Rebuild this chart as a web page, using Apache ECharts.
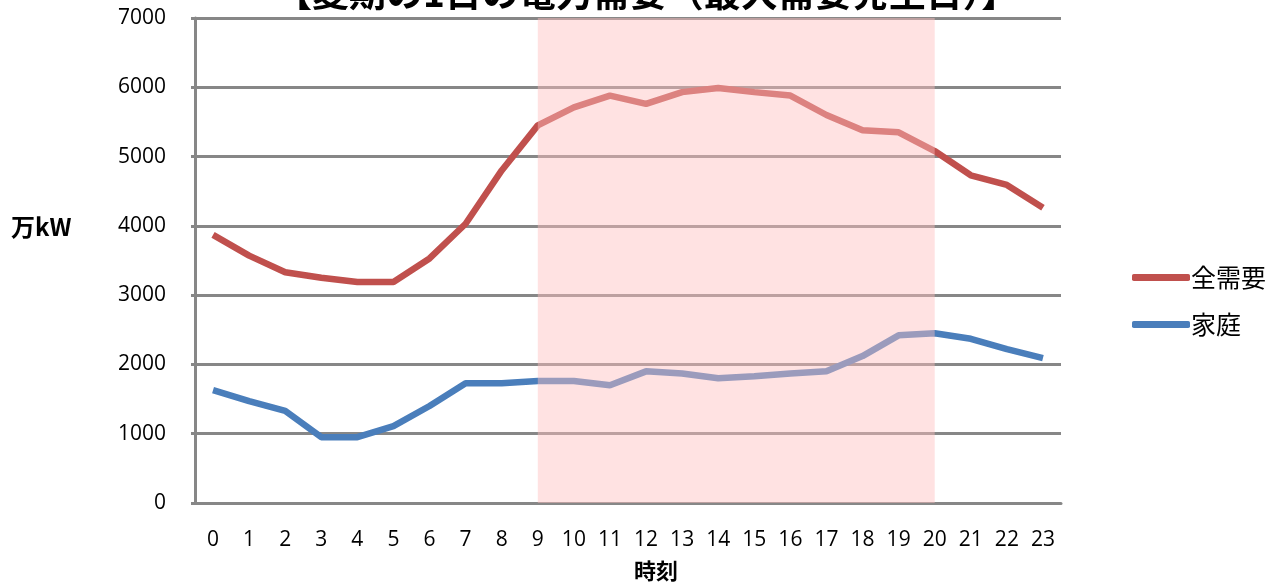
<!DOCTYPE html>
<html>
<head>
<meta charset="utf-8">
<script src="https://cdn.jsdelivr.net/npm/echarts@6/dist/echarts.min.js"></script>
<style>
    html, body { margin: 0; padding: 0; background: #fff; }
    #main { width: 1270px; height: 587px; }
</style>
</head>
<body>
<div id="main"></div>
<script>
// 時刻
var hours = ['0', '1', '2', '3', '4', '5', '6', '7', '8', '9', '10', '11',
    '12', '13', '14', '15', '16', '17', '18', '19', '20', '21', '22', '23'];
// 全需要（万kW）
var totalDemand = [3870, 3570, 3330, 3250, 3190, 3190, 3530, 4030, 4800, 5450, 5710, 5880,
    5760, 5930, 5990, 5930, 5880, 5600, 5380, 5350, 5080, 4730, 4590, 4260];
// 家庭（万kW）
var homeDemand = [1630, 1470, 1330, 950, 950, 1110, 1400, 1730, 1730, 1760, 1760, 1700,
    1900, 1870, 1800, 1830, 1870, 1900, 2120, 2420, 2450, 2370, 2220, 2090];
// ピーク時間帯
var peakRange = ['9', '20'];

var cjk = '"Noto Sans CJK JP", "Noto Sans", sans-serif';
var gridGrey = '#878787';

var myChart = echarts.init(document.getElementById('main'));
var option = {
    backgroundColor: '#fff',
    animation: false,
    title: {
        text: '【夏期の1日の電力需要（最大需要発生日）】',
        left: 270,
        top: -31,
        textStyle: {
            fontFamily: cjk,
            fontSize: 37,
            fontWeight: 'bold',
            color: '#000'
        }
    },
    graphic: [{
        type: 'text',
        left: 11,
        top: 215,
        style: {
            text: '万kW',
            font: 'bold 24px "Noto Sans CJK JP", sans-serif',
            fill: '#000'
        }
    }, {
        type: 'text',
        left: 634,
        top: 560,
        style: {
            text: '時刻',
            font: 'bold 22px "Noto Sans CJK JP", sans-serif',
            fill: '#000'
        }
    }],
    legend: {
        orient: 'vertical',
        left: 1127,
        top: 260,
        itemWidth: 58,
        itemHeight: 7,
        itemGap: 22,
        icon: 'roundRect',
        data: ['全需要', '家庭'],
        textStyle: {
            fontFamily: cjk,
            fontSize: 25,
            color: '#000',
            padding: [0, 0, 0, -4]
        }
    },
    grid: {
        left: 195,
        right: 209,
        top: 18,
        bottom: 84,
        outerBoundsMode: 'none',
        containLabel: false
    },
    xAxis: {
        type: 'category',
        data: hours,
        axisLine: { lineStyle: { color: gridGrey, width: 3 } },
        axisTick: { show: false },
        axisLabel: {
            margin: 27,
            fontFamily: '"Open Sans", sans-serif',
            fontSize: 21,
            color: '#000',
            interval: 0
        }
    },
    yAxis: {
        type: 'value',
        min: 0,
        max: 7000,
        interval: 1000,
        axisLine: { show: true, lineStyle: { color: gridGrey, width: 3 } },
        axisTick: { show: true, length: 4, lineStyle: { color: gridGrey, width: 3 } },
        splitLine: { lineStyle: { color: gridGrey, width: 3 } },
        axisLabel: {
            margin: 29,
            fontFamily: '"Open Sans", sans-serif',
            fontSize: 21,
            color: '#000',
            formatter: function (value) {
                return String(value);
            }
        }
    },
    series: [
        {
            name: '全需要',
            type: 'line',
            data: totalDemand,
            symbol: 'none',
            color: '#C0504D',
            lineStyle: { width: 6.5, color: '#C0504D' },
            z: 3
        },
        {
            name: '家庭',
            type: 'line',
            data: homeDemand,
            symbol: 'none',
            color: '#4A7EBB',
            lineStyle: { width: 6.5, color: '#4A7EBB' },
            z: 3
        },
        {
            name: 'peak',
            type: 'line',
            data: [],
            z: 10,
            silent: true,
            markArea: {
                silent: true,
                z: 10,
                itemStyle: { color: 'rgba(255, 190, 190, 0.45)' },
                data: [[{ xAxis: peakRange[0] }, { xAxis: peakRange[1] }]]
            }
        }
    ]
};
myChart.setOption(option);
</script>
</body>
</html>
